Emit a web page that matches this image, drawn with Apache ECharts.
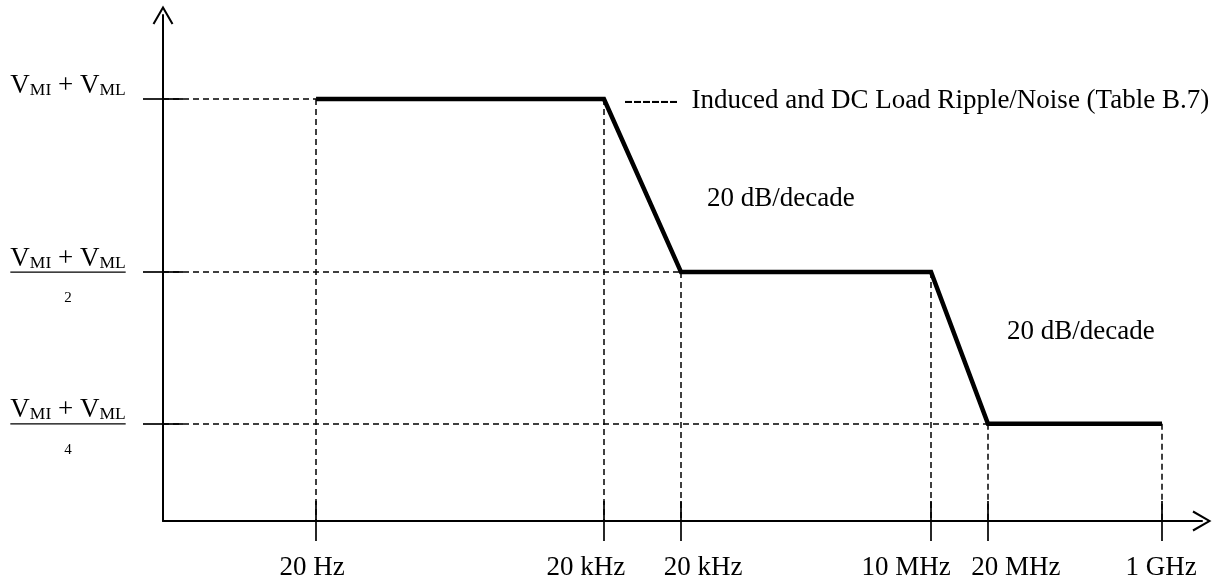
<!DOCTYPE html>
<html>
<head>
<meta charset="utf-8">
<script src="https://cdn.jsdelivr.net/npm/echarts@6/dist/echarts.min.js"></script>
<style>
  html, body { margin: 0; padding: 0; background: #fff; }
  #chart { width: 1213px; height: 583px; }
</style>
</head>
<body>
<div id="chart"></div>
<script>
// Frequency breakpoints, placed on a schematic (non-scaled) horizontal axis, 0–100
const freqLabels = ['20 Hz', '20 kHz', '20 kHz', '10 MHz', '20 MHz', '1 GHz'];
const freqPos = [14.73, 42.44, 49.86, 73.92, 79.40, 96.15];

// Ripple/noise limit levels on a schematic vertical axis, 0–100
const levelPos = [83.4, 49.2, 19.2];
const levelDivisor = [1, 2, 4];

// Limit envelope: which level applies at each breakpoint
const envelopeLevel = [0, 0, 1, 1, 2, 2];

// Annotation texts
const noteTexts = ['------  Induced and DC Load Ripple/Noise (Table B.7)', '20 dB/decade', '20 dB/decade'];

const SERIF = '"Liberation Serif", "Times New Roman", serif';
const FONT_SIZE = 27;
const CHEVRON = 'path://M0,18.2 L10.5,0 L21,18.2 L19.2,19.2 L10.5,4 L1.8,19.2 Z';

// Horizontal nudge (px) of each frequency label so that neighbouring labels do not collide
const labelNudge = [-4, -18, 22, -25, 28, -1];

const envelope = freqPos.map((x, i) => [x, levelPos[envelopeLevel[i]]]);

// Dashed guide lines: verticals down to the frequency axis, horizontals from the level axis
const guides = [];
freqPos.forEach((x, i) => {
  guides.push([{ coord: [x, levelPos[envelopeLevel[i]]] }, { coord: [x, 0] }]);
});
levelPos.forEach((y, j) => {
  const first = envelopeLevel.indexOf(j);
  guides.push([{ coord: [0, y] }, { coord: [freqPos[first], y] }]);
});

function levelLabel(value) {
  const j = levelPos.indexOf(value);
  const sum = '{sp|}{v|V}{s|MI}{v| + V}{s|ML}';
  if (levelDivisor[j] === 1) return sum + '\n{hr0|}\n{sp|}';
  return sum + '\n{hr|}\n{sp|}{d|' + levelDivisor[j] + '}';
}

// One rich style per frequency label, padded on one side to shift it
const freqRich = {};
labelNudge.forEach((n, i) => {
  freqRich['f' + i] = {
    fontFamily: SERIF, fontSize: FONT_SIZE, color: '#000',
    padding: n >= 0 ? [0, 0, 0, 2 * n] : [0, -2 * n, 0, 0]
  };
});

const axisLineStyle = { color: '#000', width: 2 };
const tickStyle = { color: '#000', width: 1.7 };

const option = {
  animation: false,
  backgroundColor: '#fff',
  grid: { left: 163, right: 11, top: 15, bottom: 62, containLabel: false, outerBoundsMode: 'none' },
  xAxis: [
    {
      type: 'value', min: 0, max: 100, position: 'bottom',
      axisLine: { show: true, lineStyle: axisLineStyle, symbol: ['none', CHEVRON], symbolSize: [21, 19] },
      axisTick: { show: true, length: 20, inside: false, lineStyle: tickStyle, customValues: freqPos },
      axisLabel: {
        show: true, customValues: freqPos, margin: 33, color: '#000',
        fontFamily: SERIF, fontSize: FONT_SIZE,
        formatter: (v) => {
          const i = freqPos.indexOf(v);
          return '{f' + i + '|' + freqLabels[i] + '}';
        },
        rich: freqRich
      },
      splitLine: { show: false }
    },
    {
      type: 'value', min: 0, max: 100, position: 'bottom',
      axisLine: { show: false },
      axisTick: { show: true, length: 20, inside: true, lineStyle: tickStyle, customValues: freqPos },
      axisLabel: { show: false },
      splitLine: { show: false }
    }
  ],
  yAxis: [
    {
      type: 'value', min: 0, max: 100, position: 'left',
      axisLine: { show: true, lineStyle: axisLineStyle, symbol: ['none', CHEVRON], symbolSize: [21, 19] },
      axisTick: { show: true, length: 20, inside: false, lineStyle: tickStyle, customValues: levelPos },
      axisLabel: {
        show: true, customValues: levelPos, margin: 95, align: 'center', color: '#000',
        fontFamily: SERIF,
        formatter: levelLabel,
        rich: {
          sp: { height: 52, width: 0 },
          v: { fontFamily: SERIF, fontSize: FONT_SIZE, lineHeight: 23, verticalAlign: 'bottom', color: '#000' },
          s: { fontFamily: SERIF, fontSize: 17.5, lineHeight: 10, verticalAlign: 'bottom', color: '#000' },
          hr: { align: 'left', width: '100%', height: 0, borderWidth: 1.2, borderColor: '#000' },
          hr0: { align: 'left', width: '100%', height: 0, borderWidth: 1.2, borderColor: 'rgba(0,0,0,0)' },
          d: { fontFamily: SERIF, fontSize: 15, verticalAlign: 'middle', color: '#000' }
        }
      },
      splitLine: { show: false }
    },
    {
      type: 'value', min: 0, max: 100, position: 'left',
      axisLine: { show: false },
      axisTick: { show: true, length: 20, inside: true, lineStyle: tickStyle, customValues: levelPos },
      axisLabel: { show: false },
      splitLine: { show: false }
    }
  ],
  series: [
    {
      type: 'line',
      data: envelope,
      symbol: 'none',
      silent: true,
      z: 5,
      lineStyle: { color: '#000', width: 4.5, join: 'miter', cap: 'butt' },
      markLine: {
        silent: true,
        symbol: ['none', 'none'],
        label: { show: false },
        lineStyle: { color: '#000', width: 1.5, type: [6, 4] },
        emphasis: { disabled: true },
        data: guides
      }
    }
  ],
  graphic: [
    { type: 'text', x: 624, y: 101, style: { text: noteTexts[0], font: FONT_SIZE + 'px ' + SERIF, fill: '#000', verticalAlign: 'middle' } },
    { type: 'text', x: 707, y: 199, style: { text: noteTexts[1], font: FONT_SIZE + 'px ' + SERIF, fill: '#000', verticalAlign: 'middle' } },
    { type: 'text', x: 1007, y: 332, style: { text: noteTexts[2], font: FONT_SIZE + 'px ' + SERIF, fill: '#000', verticalAlign: 'middle' } }
  ]
};

const chart = echarts.init(document.getElementById('chart'), null, { renderer: 'canvas' });
chart.setOption(option);
</script>
</body>
</html>
